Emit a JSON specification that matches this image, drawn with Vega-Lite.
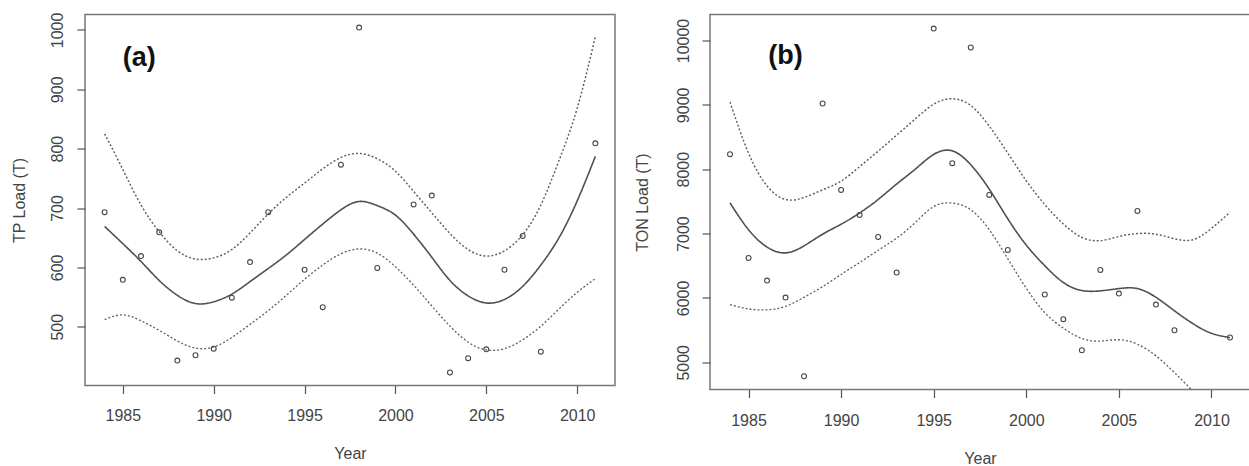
{
  "$schema": "https://vega.github.io/schema/vega-lite/v6.json",
  "background": "white",
  "padding": {"left": 10, "top": 10.5, "right": 0, "bottom": 0},
  "spacing": 17,
  "config": {
    "font": "Liberation Sans",
    "view": {"stroke": "#777777", "strokeWidth": 1.5},
    "axis": {
      "grid": false,
      "domain": false,
      "ticks": true,
      "tickSize": 8,
      "tickColor": "#555555",
      "tickWidth": 1.2,
      "labelFont": "Liberation Sans",
      "titleFont": "Liberation Sans",
      "labelFontSize": 16,
      "titleFontSize": 16,
      "titleFontWeight": "normal",
      "labelColor": "#444444",
      "titleColor": "#444444",
      "labelOverlap": false
    }
  },
  "datasets": {
    "tp_points": [
      {"year": 1984, "load": 693}, {"year": 1985, "load": 579}, {"year": 1986, "load": 619},
      {"year": 1987, "load": 659}, {"year": 1988, "load": 443}, {"year": 1989, "load": 452},
      {"year": 1990, "load": 463}, {"year": 1991, "load": 549}, {"year": 1992, "load": 609},
      {"year": 1993, "load": 693}, {"year": 1995, "load": 596}, {"year": 1996, "load": 533},
      {"year": 1997, "load": 773}, {"year": 1998, "load": 1004}, {"year": 1999, "load": 599},
      {"year": 2001, "load": 706}, {"year": 2002, "load": 721}, {"year": 2003, "load": 423},
      {"year": 2004, "load": 447}, {"year": 2005, "load": 462}, {"year": 2006, "load": 596},
      {"year": 2007, "load": 653}, {"year": 2008, "load": 458}, {"year": 2011, "load": 809}
    ],
    "tp_fit": [
      {"year": 1984, "band": "fit", "load": 669}, {"year": 1985, "band": "fit", "load": 640},
      {"year": 1986, "band": "fit", "load": 610}, {"year": 1987, "band": "fit", "load": 578},
      {"year": 1988, "band": "fit", "load": 553}, {"year": 1989, "band": "fit", "load": 539},
      {"year": 1990, "band": "fit", "load": 542}, {"year": 1991, "band": "fit", "load": 555},
      {"year": 1992, "band": "fit", "load": 576}, {"year": 1993, "band": "fit", "load": 598},
      {"year": 1994, "band": "fit", "load": 621}, {"year": 1995, "band": "fit", "load": 647},
      {"year": 1996, "band": "fit", "load": 673}, {"year": 1997, "band": "fit", "load": 697},
      {"year": 1998, "band": "fit", "load": 711}, {"year": 1999, "band": "fit", "load": 704},
      {"year": 2000, "band": "fit", "load": 688}, {"year": 2001, "band": "fit", "load": 656},
      {"year": 2002, "band": "fit", "load": 617}, {"year": 2003, "band": "fit", "load": 578},
      {"year": 2004, "band": "fit", "load": 552}, {"year": 2005, "band": "fit", "load": 540},
      {"year": 2006, "band": "fit", "load": 546}, {"year": 2007, "band": "fit", "load": 568},
      {"year": 2008, "band": "fit", "load": 604}, {"year": 2009, "band": "fit", "load": 650},
      {"year": 2010, "band": "fit", "load": 712}, {"year": 2011, "band": "fit", "load": 787},
      {"year": 1984, "band": "upper", "load": 825}, {"year": 1985, "band": "upper", "load": 765},
      {"year": 1986, "band": "upper", "load": 705}, {"year": 1987, "band": "upper", "load": 660},
      {"year": 1988, "band": "upper", "load": 628}, {"year": 1989, "band": "upper", "load": 614},
      {"year": 1990, "band": "upper", "load": 616}, {"year": 1991, "band": "upper", "load": 630},
      {"year": 1992, "band": "upper", "load": 658}, {"year": 1993, "band": "upper", "load": 690},
      {"year": 1994, "band": "upper", "load": 718}, {"year": 1995, "band": "upper", "load": 742},
      {"year": 1996, "band": "upper", "load": 766}, {"year": 1997, "band": "upper", "load": 785},
      {"year": 1998, "band": "upper", "load": 792}, {"year": 1999, "band": "upper", "load": 783},
      {"year": 2000, "band": "upper", "load": 762}, {"year": 2001, "band": "upper", "load": 728},
      {"year": 2002, "band": "upper", "load": 692}, {"year": 2003, "band": "upper", "load": 657},
      {"year": 2004, "band": "upper", "load": 630}, {"year": 2005, "band": "upper", "load": 619},
      {"year": 2006, "band": "upper", "load": 628}, {"year": 2007, "band": "upper", "load": 655},
      {"year": 2008, "band": "upper", "load": 705}, {"year": 2009, "band": "upper", "load": 780},
      {"year": 2010, "band": "upper", "load": 868}, {"year": 2011, "band": "upper", "load": 989},
      {"year": 1984, "band": "lower", "load": 512}, {"year": 1985, "band": "lower", "load": 520},
      {"year": 1986, "band": "lower", "load": 510}, {"year": 1987, "band": "lower", "load": 494},
      {"year": 1988, "band": "lower", "load": 476}, {"year": 1989, "band": "lower", "load": 464},
      {"year": 1990, "band": "lower", "load": 466}, {"year": 1991, "band": "lower", "load": 482},
      {"year": 1992, "band": "lower", "load": 504}, {"year": 1993, "band": "lower", "load": 527},
      {"year": 1994, "band": "lower", "load": 553}, {"year": 1995, "band": "lower", "load": 580},
      {"year": 1996, "band": "lower", "load": 604}, {"year": 1997, "band": "lower", "load": 623},
      {"year": 1998, "band": "lower", "load": 631}, {"year": 1999, "band": "lower", "load": 624},
      {"year": 2000, "band": "lower", "load": 601}, {"year": 2001, "band": "lower", "load": 570},
      {"year": 2002, "band": "lower", "load": 535}, {"year": 2003, "band": "lower", "load": 501},
      {"year": 2004, "band": "lower", "load": 474}, {"year": 2005, "band": "lower", "load": 461},
      {"year": 2006, "band": "lower", "load": 463}, {"year": 2007, "band": "lower", "load": 478},
      {"year": 2008, "band": "lower", "load": 501}, {"year": 2009, "band": "lower", "load": 530},
      {"year": 2010, "band": "lower", "load": 558}, {"year": 2011, "band": "lower", "load": 581}
    ],
    "ton_points": [
      {"year": 1984, "load": 8233}, {"year": 1985, "load": 6622}, {"year": 1986, "load": 6270},
      {"year": 1987, "load": 6006}, {"year": 1988, "load": 4783}, {"year": 1989, "load": 9021},
      {"year": 1990, "load": 7678}, {"year": 1991, "load": 7290}, {"year": 1992, "load": 6948},
      {"year": 1993, "load": 6395}, {"year": 1995, "load": 10186}, {"year": 1996, "load": 8093},
      {"year": 1997, "load": 9891}, {"year": 1998, "load": 7601}, {"year": 1999, "load": 6746},
      {"year": 2001, "load": 6053}, {"year": 2002, "load": 5669}, {"year": 2003, "load": 5187},
      {"year": 2004, "load": 6435}, {"year": 2005, "load": 6068}, {"year": 2006, "load": 7352},
      {"year": 2007, "load": 5897}, {"year": 2008, "load": 5498}, {"year": 2011, "load": 5385}
    ],
    "ton_fit": [
      {"year": 1984, "band": "fit", "load": 7476}, {"year": 1985, "band": "fit", "load": 7060},
      {"year": 1986, "band": "fit", "load": 6790}, {"year": 1987, "band": "fit", "load": 6700},
      {"year": 1988, "band": "fit", "load": 6810}, {"year": 1989, "band": "fit", "load": 6990},
      {"year": 1990, "band": "fit", "load": 7145}, {"year": 1991, "band": "fit", "load": 7320},
      {"year": 1992, "band": "fit", "load": 7530}, {"year": 1993, "band": "fit", "load": 7770},
      {"year": 1994, "band": "fit", "load": 8000}, {"year": 1995, "band": "fit", "load": 8230},
      {"year": 1996, "band": "fit", "load": 8285}, {"year": 1997, "band": "fit", "load": 8070},
      {"year": 1998, "band": "fit", "load": 7690}, {"year": 1999, "band": "fit", "load": 7230},
      {"year": 2000, "band": "fit", "load": 6820}, {"year": 2001, "band": "fit", "load": 6500},
      {"year": 2002, "band": "fit", "load": 6240}, {"year": 2003, "band": "fit", "load": 6115},
      {"year": 2004, "band": "fit", "load": 6110}, {"year": 2005, "band": "fit", "load": 6145},
      {"year": 2006, "band": "fit", "load": 6145}, {"year": 2007, "band": "fit", "load": 6010},
      {"year": 2008, "band": "fit", "load": 5800}, {"year": 2009, "band": "fit", "load": 5600},
      {"year": 2010, "band": "fit", "load": 5450}, {"year": 2011, "band": "fit", "load": 5385},
      {"year": 1984, "band": "upper", "load": 9046}, {"year": 1985, "band": "upper", "load": 8250},
      {"year": 1986, "band": "upper", "load": 7740}, {"year": 1987, "band": "upper", "load": 7530},
      {"year": 1988, "band": "upper", "load": 7560}, {"year": 1989, "band": "upper", "load": 7680},
      {"year": 1990, "band": "upper", "load": 7815}, {"year": 1991, "band": "upper", "load": 8040},
      {"year": 1992, "band": "upper", "load": 8280}, {"year": 1993, "band": "upper", "load": 8530},
      {"year": 1994, "band": "upper", "load": 8780}, {"year": 1995, "band": "upper", "load": 9010},
      {"year": 1996, "band": "upper", "load": 9095}, {"year": 1997, "band": "upper", "load": 8990},
      {"year": 1998, "band": "upper", "load": 8670}, {"year": 1999, "band": "upper", "load": 8250},
      {"year": 2000, "band": "upper", "load": 7820}, {"year": 2001, "band": "upper", "load": 7450},
      {"year": 2002, "band": "upper", "load": 7150}, {"year": 2003, "band": "upper", "load": 6940},
      {"year": 2004, "band": "upper", "load": 6890}, {"year": 2005, "band": "upper", "load": 6955},
      {"year": 2006, "band": "upper", "load": 7000}, {"year": 2007, "band": "upper", "load": 6990},
      {"year": 2008, "band": "upper", "load": 6920}, {"year": 2009, "band": "upper", "load": 6905},
      {"year": 2010, "band": "upper", "load": 7080}, {"year": 2011, "band": "upper", "load": 7330},
      {"year": 1984, "band": "lower", "load": 5897}, {"year": 1985, "band": "lower", "load": 5830},
      {"year": 1986, "band": "lower", "load": 5815}, {"year": 1987, "band": "lower", "load": 5870},
      {"year": 1988, "band": "lower", "load": 6010}, {"year": 1989, "band": "lower", "load": 6175},
      {"year": 1990, "band": "lower", "load": 6365}, {"year": 1991, "band": "lower", "load": 6550},
      {"year": 1992, "band": "lower", "load": 6740}, {"year": 1993, "band": "lower", "load": 6930},
      {"year": 1994, "band": "lower", "load": 7170}, {"year": 1995, "band": "lower", "load": 7420},
      {"year": 1996, "band": "lower", "load": 7475}, {"year": 1997, "band": "lower", "load": 7370},
      {"year": 1998, "band": "lower", "load": 7060}, {"year": 1999, "band": "lower", "load": 6610},
      {"year": 2000, "band": "lower", "load": 6150}, {"year": 2001, "band": "lower", "load": 5770},
      {"year": 2002, "band": "lower", "load": 5530}, {"year": 2003, "band": "lower", "load": 5370},
      {"year": 2004, "band": "lower", "load": 5330}, {"year": 2005, "band": "lower", "load": 5350},
      {"year": 2006, "band": "lower", "load": 5280}, {"year": 2007, "band": "lower", "load": 5100},
      {"year": 2008, "band": "lower", "load": 4840}, {"year": 2009, "band": "lower", "load": 4550},
      {"year": 2010, "band": "lower", "load": 4250}, {"year": 2011, "band": "lower", "load": 3950}
    ]
  },
  "hconcat": [
    {
      "width": 530,
      "height": 371,
      "layer": [
        {
          "data": {"name": "tp_fit"},
          "mark": {"type": "line", "interpolate": "natural", "clip": true},
          "encoding": {
            "x": {"field": "year", "type": "quantitative",
              "scale": {"domain": [1982.92, 2012.08], "nice": false, "zero": false},
              "axis": {"values": [1985, 1990, 1995, 2000, 2005, 2010], "format": "d", "title": "Year",
                "labelBaseline": "alphabetic", "labelPadding": 27, "titleY": 73, "titleBaseline": "alphabetic"}},
            "y": {"field": "load", "type": "quantitative",
              "scale": {"domain": [401, 1026], "nice": false, "zero": false},
              "axis": {"values": [500, 600, 700, 800, 900, 1000], "format": "d", "title": "TP Load (T)",
                "labelAngle": 270, "labelAlign": "center", "labelBaseline": "alphabetic", "labelPadding": 15,
                "titleX": -66, "titleY": 185.5, "titleAngle": 270, "titleAlign": "center", "titleBaseline": "middle"}},
            "detail": {"field": "band", "type": "nominal"},
            "color": {"field": "band", "type": "nominal", "scale": {"domain": ["fit", "upper", "lower"], "range": ["#505050", "#606060", "#606060"]}, "legend": null},
            "strokeDash": {"field": "band", "type": "nominal", "scale": {"domain": ["fit", "upper", "lower"], "range": [[1, 0], [2, 2], [2, 2]]}, "legend": null},
            "strokeWidth": {"field": "band", "type": "nominal", "scale": {"domain": ["fit", "upper", "lower"], "range": [1.6, 1.3, 1.3]}, "legend": null}
          }
        },
        {
          "data": {"name": "tp_points"},
          "mark": {"type": "point", "shape": "circle", "size": 24, "filled": false, "strokeWidth": 1.1, "color": "#484848", "opacity": 1},
          "encoding": {
            "x": {"field": "year", "type": "quantitative"},
            "y": {"field": "load", "type": "quantitative"}
          }
        },
        {
          "data": {"values": [{}]},
          "mark": {"type": "text", "text": "(a)", "align": "left", "baseline": "middle", "fontSize": 27, "fontWeight": "bold", "font": "Liberation Sans", "color": "#111111"},
          "encoding": {
            "x": {"datum": 1985, "type": "quantitative"},
            "y": {"datum": 953, "type": "quantitative"}
          }
        }
      ]
    },
    {
      "width": 540,
      "height": 375,
      "layer": [
        {
          "data": {"name": "ton_fit"},
          "mark": {"type": "line", "interpolate": "natural", "clip": true},
          "encoding": {
            "x": {"field": "year", "type": "quantitative",
              "scale": {"domain": [1982.92, 2012.08], "nice": false, "zero": false},
              "axis": {"values": [1985, 1990, 1995, 2000, 2005, 2010], "format": "d", "title": "Year",
                "labelBaseline": "alphabetic", "labelPadding": 28, "titleY": 74, "titleBaseline": "alphabetic"}},
            "y": {"field": "load", "type": "quantitative",
              "scale": {"domain": [4577, 10404], "nice": false, "zero": false},
              "axis": {"values": [5000, 6000, 7000, 8000, 9000, 10000], "format": "d", "title": "TON Load (T)",
                "labelAngle": 270, "labelAlign": "center", "labelBaseline": "alphabetic", "labelPadding": 14,
                "titleX": -68, "titleY": 187.5, "titleAngle": 270, "titleAlign": "center", "titleBaseline": "middle"}},
            "detail": {"field": "band", "type": "nominal"},
            "color": {"field": "band", "type": "nominal", "scale": {"domain": ["fit", "upper", "lower"], "range": ["#505050", "#606060", "#606060"]}, "legend": null},
            "strokeDash": {"field": "band", "type": "nominal", "scale": {"domain": ["fit", "upper", "lower"], "range": [[1, 0], [2, 2], [2, 2]]}, "legend": null},
            "strokeWidth": {"field": "band", "type": "nominal", "scale": {"domain": ["fit", "upper", "lower"], "range": [1.6, 1.3, 1.3]}, "legend": null}
          }
        },
        {
          "data": {"name": "ton_points"},
          "mark": {"type": "point", "shape": "circle", "size": 24, "filled": false, "strokeWidth": 1.1, "color": "#484848", "opacity": 1},
          "encoding": {
            "x": {"field": "year", "type": "quantitative"},
            "y": {"field": "load", "type": "quantitative"}
          }
        },
        {
          "data": {"values": [{}]},
          "mark": {"type": "text", "text": "(b)", "align": "left", "baseline": "middle", "fontSize": 27, "fontWeight": "bold", "font": "Liberation Sans", "color": "#111111"},
          "encoding": {
            "x": {"datum": 1986.06, "type": "quantitative"},
            "y": {"datum": 9756, "type": "quantitative"}
          }
        }
      ]
    }
  ]
}
